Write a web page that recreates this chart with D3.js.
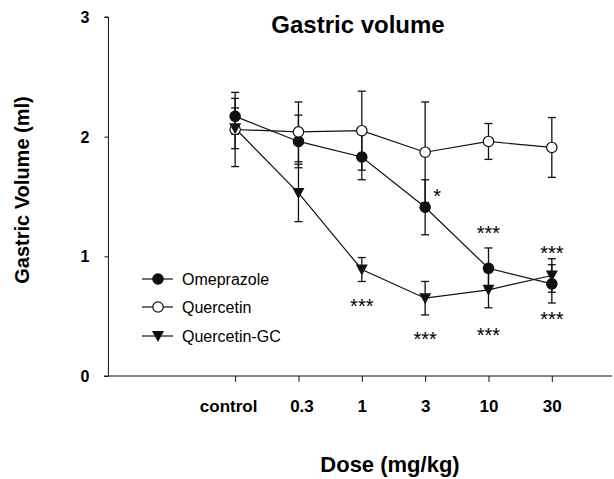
<!DOCTYPE html>
<html>
<head>
<meta charset="utf-8">
<script src="https://cdn.jsdelivr.net/npm/d3@7"></script>
<style>
  html, body { margin: 0; padding: 0; background: #fff; }
  svg { display: block; }
  text { font-family: "Liberation Sans", Arial, sans-serif; fill: #000; }
</style>
</head>
<body>
<svg id="chart" width="614" height="479"></svg>
<script>
// ---- data ----
const doseLabels = ["control", "0.3", "1", "3", "10", "30"];
const yTicks = [0, 1, 2, 3];
const seriesNames = ["Omeprazole", "Quercetin", "Quercetin-GC"];
const omeprazole     = [2.17, 1.96, 1.83, 1.41, 0.90, 0.77];
const omeprazoleErr  = [0.15, 0.22, 0.19, 0.23, 0.17, 0.16];
const quercetin      = [2.06, 2.04, 2.05, 1.87, 1.96, 1.91];
const quercetinErr   = [0.31, 0.25, 0.33, 0.42, 0.15, 0.25];
const quercetinGC    = [2.07, 1.53, 0.89, 0.65, 0.72, 0.84];
const quercetinGCErr = [0.17, 0.24, 0.10, 0.14, 0.15, 0.14];
// significance marks: dose index, value level
const starLabels = ["*", "***", "***", "***", "***", "***", "***"];
const starDose   = [3, 4, 5, 2, 3, 4, 5];
const starLevel  = [1.54, 1.23, 1.06, 0.62, 0.34, 0.38, 0.51];

const svg = d3.select("#chart");
const x = d3.scaleLinear().domain([-2.07, 5.95]).range([104, 612]);
const y = d3.scaleLinear().domain([0, 3]).range([376, 17]);
const ink = "#111";

// axes
const yAxis = d3.axisLeft(y).tickValues(yTicks).tickSize(4).tickFormat(d3.format("d"));
const gy = svg.append("g").attr("transform", `translate(${x(-2)},0)`).call(yAxis);
gy.select(".domain").attr("stroke", ink).attr("d", `M-4,${y(3)}H0V${y(0)}`);
gy.selectAll(".tick line").attr("stroke", ink);
gy.selectAll(".tick text").attr("x", -19).attr("dy", "0.35em")
  .style("font-size", "16px").style("font-weight", "bold").style("font-family", "Liberation Sans, Arial, sans-serif");

const xAxis = d3.axisBottom(x).tickValues(d3.range(doseLabels.length)).tickSize(6)
  .tickFormat(i => doseLabels[i]);
const gx = svg.append("g").attr("transform", `translate(0,${y(0)})`).call(xAxis);
gx.select(".domain").attr("stroke", ink).attr("d", `M${x(-2.07)},0H${x(5.95)}`);
gx.selectAll(".tick line").attr("stroke", ink);
gx.selectAll(".tick text").attr("y", 30).attr("dy", "0.35em")
  .style("font-size", "17px").style("font-weight", "bold").style("font-family", "Liberation Sans, Arial, sans-serif");
gx.selectAll(".tick text").filter((d, i) => i === 0).attr("dx", -7);
gx.selectAll(".tick text").filter((d, i) => i === 1).attr("dx", 3);

// titles
svg.append("text").attr("x", 358).attr("y", 33).attr("text-anchor", "middle")
  .style("font-size", "24px").style("font-weight", "bold").text("Gastric volume");
svg.append("text").attr("x", 390).attr("y", 472).attr("text-anchor", "middle")
  .style("font-size", "22px").style("font-weight", "bold").text("Dose (mg/kg)");
svg.append("text").attr("transform", "translate(29,190) rotate(-90)").attr("text-anchor", "middle")
  .style("font-size", "20px").style("font-weight", "bold").text("Gastric Volume (ml)");

const series = [
  { name: seriesNames[0], vals: omeprazole, err: omeprazoleErr, shape: "filled" },
  { name: seriesNames[1], vals: quercetin, err: quercetinErr, shape: "open" },
  { name: seriesNames[2], vals: quercetinGC, err: quercetinGCErr, shape: "tri" }
];

const line = d3.line().x((d, i) => x(i)).y(d => y(d));

function marker(g, shape, cx, cy) {
  if (shape === "tri") {
    g.append("path").attr("d", `M${cx - 6},${cy - 5}L${cx + 6},${cy - 5}L${cx},${cy + 6}Z`).attr("fill", ink);
  } else {
    g.append("circle").attr("cx", cx).attr("cy", cy).attr("r", 5.2)
      .attr("fill", shape === "open" ? "#fff" : ink).attr("stroke", ink).attr("stroke-width", 1.2);
  }
}

// error bars
series.forEach(s => {
  const g = svg.append("g").attr("stroke", ink).attr("stroke-width", 1.3).attr("fill", "none");
  s.vals.forEach((v, i) => {
    const cx = x(i), top = y(v + s.err[i]), bot = y(v - s.err[i]);
    g.append("line").attr("x1", cx).attr("x2", cx).attr("y1", top).attr("y2", bot);
    g.append("line").attr("x1", cx - 4).attr("x2", cx + 4).attr("y1", top).attr("y2", top);
    g.append("line").attr("x1", cx - 4).attr("x2", cx + 4).attr("y1", bot).attr("y2", bot);
  });
});
// lines
series.forEach(s => {
  svg.append("path").datum(s.vals).attr("d", line).attr("fill", "none").attr("stroke", ink).attr("stroke-width", 1.2);
});
// markers
series.forEach(s => {
  const g = svg.append("g");
  s.vals.forEach((v, i) => marker(g, s.shape, x(i), y(v)));
});

// significance stars
starLabels.forEach((t, k) => {
  svg.append("text").attr("x", x(starDose[k]) + (t === "*" ? 12 : 0)).attr("y", y(starLevel[k]) + 11)
    .attr("text-anchor", "middle").style("font-size", "20px").text(t);
});

// legend
const legY = [279, 307, 336];
series.forEach((s, k) => {
  const g = svg.append("g");
  g.append("line").attr("x1", 142).attr("x2", 173).attr("y1", legY[k]).attr("y2", legY[k])
    .attr("stroke", ink).attr("stroke-width", 1.2);
  marker(g, s.shape, 158, legY[k]);
  g.append("text").attr("x", 182).attr("y", legY[k]).attr("dy", "0.35em")
    .style("font-size", "16px").text(s.name);
});
</script>
</body>
</html>
